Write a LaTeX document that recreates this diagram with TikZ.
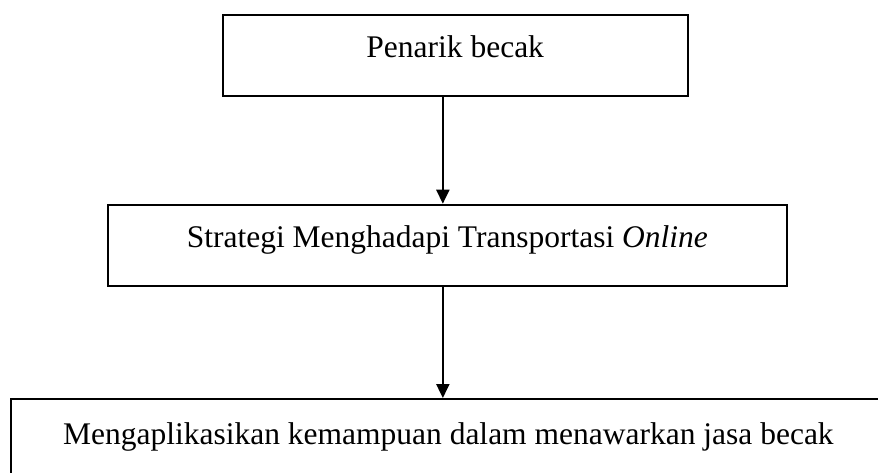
\documentclass[tikz,border=0pt]{standalone}
\usepackage{fontspec}
\setmainfont{Liberation Serif}
\usetikzlibrary{arrows.meta,positioning}

\tikzset{
	box/.style={rectangle,draw,line width=2pt,inner sep=0pt,anchor=north west,
		text height=22pt,text depth=18.4pt,font=\fontsize{31.5}{36}\selectfont},
	arr/.style={line width=2.2pt,-{Triangle[length=14pt,width=13pt]}}
}

\begin{document}
\begin{tikzpicture}[x=1pt,y=-1pt]
	\useasboundingbox (0,0) rectangle (878,473);
	\begin{scope}
		\node[box,minimum width=465pt,minimum height=81.6pt] (penarik) at (221.7,13.7) {Penarik becak};
		\node[box,minimum width=679.3pt,minimum height=81.6pt] (strategi) at (106.7,203.7) {Strategi Menghadapi Transportasi \textit{Online}};
		\node[box,minimum width=875.3pt,minimum height=87pt] (aplikasi) at (9.7,398) {Mengaplikasikan kemampuan dalam menawarkan jasa becak};
	\end{scope}

	\begin{scope}
	\draw[arr] ([xshift=-4.5pt]strategi.north |- penarik.south) -- ([xshift=-4.5pt]strategi.north);
	\draw[arr] ([xshift=-4.5pt]strategi.south) -- ([xshift=-4.5pt]strategi.south |- aplikasi.north);
	\end{scope}
\end{tikzpicture}
\end{document}
